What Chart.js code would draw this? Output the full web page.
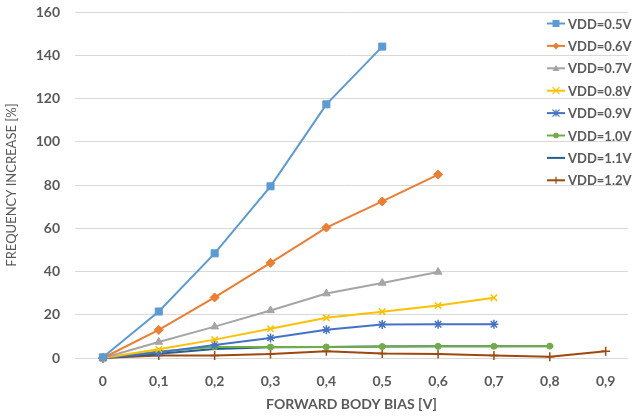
<!DOCTYPE html>
<html>
<head>
<meta charset="utf-8">
<script src="https://cdn.jsdelivr.net/npm/chart.js@4/dist/chart.umd.min.js"></script>
<style>
  html, body { margin: 0; padding: 0; background: #fff; }
  #wrap { width: 634px; height: 418px; }
</style>
</head>
<body>
<div id="wrap"><canvas id="myChart"></canvas></div>
<script>
// Forward body bias steps (V)
const bias = [0, 0.1, 0.2, 0.3, 0.4, 0.5, 0.6, 0.7, 0.8, 0.9];

// Frequency increase [%] per supply voltage
const vdd05 = [0.3, 21.5, 48.4, 79.4, 117.3, 144];
const vdd06 = [0, 13, 28, 44, 60.3, 72.4, 84.8];
const vdd07 = [0, 7.4, 14.5, 22, 29.8, 34.7, 39.8];
const vdd08 = [0, 4, 8.5, 13.5, 18.6, 21.4, 24.3, 27.9];
const vdd09 = [0, 2.5, 6, 9.3, 13.1, 15.5, 15.6, 15.6];
const vdd10 = [0, 3, 5.1, 5.1, 5.1, 5.3, 5.4, 5.4, 5.5];
const vdd11 = [0, 2, 4.2, 5, 5.1, 5.3, 5.4, 5.4, 5.4];
const vdd12 = [0, 1.1, 1.2, 1.8, 3.1, 2.1, 1.8, 1.1, 0.6, 3.1];

const seriesNames = ["VDD=0.5V", "VDD=0.6V", "VDD=0.7V", "VDD=0.8V",
                     "VDD=0.9V", "VDD=1.0V", "VDD=1.1V", "VDD=1.2V"];
const seriesValues = [vdd05, vdd06, vdd07, vdd08, vdd09, vdd10, vdd11, vdd12];
const colors = ["#5B9BD5", "#ED7D31", "#A5A5A5", "#FFC000",
                "#4472C4", "#70AD47", "#255E91", "#9E480E"];
const markers = ["rect", "rectRot", "triangle", "crossRot",
                 "star", "circle", "line", "cross"];
const markerSize = [5, 4.5, 4.5, 4.5, 4.5, 3, 3.5, 4.5];

const xTicks = bias;
const yMax = 160;
const textGray = "#595959";

let datasets = [];
for (let i = 0; i < seriesNames.length; i++) {
  let thin = ["crossRot", "cross", "star", "line"].includes(markers[i]);
  datasets.push({
    label: seriesNames[i],
    data: seriesValues[i].map((v, j) => ({ x: bias[j], y: v })),
    borderColor: colors[i],
    backgroundColor: colors[i],
    borderWidth: 2,
    pointStyle: markers[i],
    pointRadius: markerSize[i],
    pointBorderWidth: thin ? 1.5 : 1,
    pointHoverRadius: markerSize[i],
    clip: false,
  });
}

// small marker for the legend (same shapes as the chart points)
function legendMarker(ctx, style, x, y, r) {
  ctx.beginPath();
  if (style == "rect") {
    ctx.rect(x - r, y - r, 2 * r, 2 * r);
    ctx.fill();
  } else if (style == "rectRot") {
    ctx.moveTo(x, y - r); ctx.lineTo(x + r, y); ctx.lineTo(x, y + r); ctx.lineTo(x - r, y);
    ctx.closePath(); ctx.fill();
  } else if (style == "triangle") {
    ctx.moveTo(x, y - r); ctx.lineTo(x + r, y + r * 0.8); ctx.lineTo(x - r, y + r * 0.8);
    ctx.closePath(); ctx.fill();
  } else if (style == "circle") {
    ctx.arc(x, y, r * 0.8, 0, Math.PI * 2); ctx.fill();
  } else if (style == "crossRot") {
    ctx.moveTo(x - r, y - r); ctx.lineTo(x + r, y + r);
    ctx.moveTo(x + r, y - r); ctx.lineTo(x - r, y + r); ctx.stroke();
  } else if (style == "cross") {
    ctx.moveTo(x, y - r); ctx.lineTo(x, y + r); ctx.stroke();
  } else if (style == "star") {
    ctx.moveTo(x - r, y - r); ctx.lineTo(x + r, y + r);
    ctx.moveTo(x + r, y - r); ctx.lineTo(x - r, y + r);
    ctx.moveTo(x, y - r); ctx.lineTo(x, y + r); ctx.stroke();
  }
}

// legend drawn over the plot, like the original
const overlayLegend = {
  id: "overlayLegend",
  afterDraw(chart) {
    const ctx = chart.ctx;
    ctx.save();
    ctx.font = "bold 13px Lato";
    ctx.textBaseline = "middle";
    ctx.textAlign = "left";
    for (let i = 0; i < datasets.length; i++) {
      const y = 23.5 + i * 22.4;
      ctx.strokeStyle = colors[i];
      ctx.fillStyle = colors[i];
      ctx.lineWidth = 2;
      ctx.beginPath();
      ctx.moveTo(547, y);
      ctx.lineTo(565, y);
      ctx.stroke();
      ctx.lineWidth = 1.2;
      legendMarker(ctx, markers[i], 556, y, 3.5);
      ctx.fillStyle = textGray;
      ctx.fillText(seriesNames[i], 568, y + 1);
    }
    ctx.restore();
  },
};

new Chart(document.getElementById("myChart"), {
  type: "line",
  data: { datasets: datasets },
  plugins: [overlayLegend],
  options: {
    responsive: true,
    maintainAspectRatio: false,
    animation: false,
    layout: { padding: { top: 12, right: 0, bottom: 0, left: 0 } },
    plugins: {
      legend: { display: false },
      tooltip: { enabled: false },
    },
    scales: {
      x: {
        type: "linear",
        min: -0.05,
        max: 0.94,
        afterBuildTicks: (scale) => {
          scale.ticks = xTicks.map((v) => ({ value: v }));
        },
        afterFit: (scale) => {
          scale.height = 60;
          scale.paddingLeft = 0;
          scale.paddingRight = 0;
        },
        grid: { display: false },
        border: { display: false },
        ticks: {
          padding: 7,
          color: textGray,
          font: { family: "Lato", size: 14, weight: "bold" },
          callback: (v) => (Math.round(v * 10) / 10).toString().replace(".", ","),
        },
        title: {
          display: true,
          text: "FORWARD BODY BIAS [V]",
          color: textGray,
          font: { family: "Lato", size: 14, weight: "bold" },
          padding: { top: 4, bottom: 5 },
        },
      },
      y: {
        min: 0,
        max: yMax,
        afterFit: (scale) => {
          scale.width = 75;
          scale.paddingTop = 0;
          scale.paddingBottom = 0;
        },
        grid: { color: "#D9D9D9", lineWidth: 1, drawTicks: false },
        border: { display: false },
        ticks: {
          stepSize: 20,
          padding: 15,
          color: textGray,
          font: { family: "Lato", size: 14, weight: "bold" },
        },
        title: {
          display: true,
          text: "FREQUENCY INCREASE [%]",
          color: textGray,
          font: { family: "Lato", size: 13 },
          padding: { top: 4, bottom: 4 },
        },
      },
    },
  },
});
</script>
</body>
</html>
